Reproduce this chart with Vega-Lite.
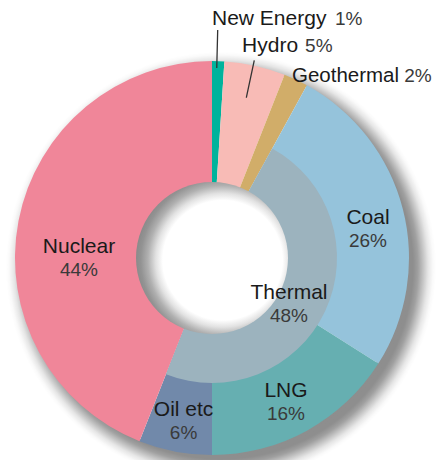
{
  "$schema": "https://vega.github.io/schema/vega-lite/v6.json",
  "width": 424,
  "height": 404,
  "padding": {"left": 0, "top": 56, "right": 15, "bottom": 0},
  "autosize": {"type": "none"},
  "background": "white",
  "config": {"view": {"stroke": null}, "text": {"font": "Liberation Sans"}},
  "data": {
    "values": [
      {"source": "New Energy", "group": "New Energy", "share": 0.01, "rank": 1},
      {"source": "Hydro", "group": "Hydro", "share": 0.05, "rank": 2},
      {"source": "Geothermal", "group": "Geothermal", "share": 0.02, "rank": 3},
      {"source": "Coal", "group": "Thermal", "share": 0.26, "rank": 4},
      {"source": "LNG", "group": "Thermal", "share": 0.16, "rank": 5},
      {"source": "Oil etc", "group": "Thermal", "share": 0.06, "rank": 6},
      {"source": "Nuclear", "group": "Nuclear", "share": 0.44, "rank": 7}
    ]
  },
  "encoding": {
    "theta": {"field": "share", "type": "quantitative", "stack": true, "scale": {"domain": [0, 1]}},
    "order": {"field": "rank", "type": "quantitative"}
  },
  "layer": [
    {
      "transform": [
        {"aggregate": [{"op": "sum", "field": "share", "as": "share"}, {"op": "min", "field": "rank", "as": "rank"}]}
      ],
      "mark": {
        "type": "arc", "radius": 230, "radius2": 195,
        "color": {
          "gradient": "radial", "x1": 0.5196, "y1": 0.5196, "r1": 0, "x2": 0.5196, "y2": 0.5196, "r2": 0.4674,
          "stops": [
            {"offset": 0, "color": "#8a8a8a"},
            {"offset": 0.893, "color": "#8e8e8e"},
            {"offset": 0.916, "color": "#a0a0a0"},
            {"offset": 0.94, "color": "#c4c4c4"},
            {"offset": 0.963, "color": "#e6e6e6"},
            {"offset": 0.986, "color": "#fafafa"},
            {"offset": 1, "color": "#ffffff"}
          ]
        }
      }
    },
    {
      "mark": {"type": "arc", "radius": 197, "radius2": 74},
      "encoding": {
        "color": {
          "field": "source", "type": "nominal", "legend": null,
          "scale": {
            "domain": ["New Energy", "Hydro", "Geothermal", "Coal", "LNG", "Oil etc", "Nuclear"],
            "range": ["#00B39C", "#F8BBB6", "#D1AD69", "#95C3DB", "#66AFB1", "#7189AA", "#F08699"]
          }
        }
      }
    },
    {
      "transform": [
        {"aggregate": [{"op": "sum", "field": "share", "as": "share"}, {"op": "min", "field": "rank", "as": "rank"}], "groupby": ["group"]}
      ],
      "mark": {"type": "arc", "radius": 125, "radius2": 74, "color": "#9CB3BE"},
      "encoding": {
        "opacity": {"condition": {"test": "datum.group === 'Thermal'", "value": 1}, "value": 0}
      }
    },
    {
      "transform": [
        {"aggregate": [{"op": "sum", "field": "share", "as": "share"}, {"op": "min", "field": "rank", "as": "rank"}]}
      ],
      "mark": {
        "type": "arc", "radius": 76, "radius2": 0,
        "color": {
          "gradient": "radial", "x1": 0.57, "y1": 0.515, "r1": 0, "x2": 0.57, "y2": 0.515, "r2": 0.579,
          "stops": [
            {"offset": 0, "color": "#ffffff"},
            {"offset": 0.68, "color": "#ffffff"},
            {"offset": 0.76, "color": "#e2e2e2"},
            {"offset": 0.85, "color": "#b0b0b0"},
            {"offset": 0.93, "color": "#939393"},
            {"offset": 1, "color": "#888888"}
          ]
        }
      }
    },
    {
      "transform": [
        {"stack": "share", "groupby": [], "sort": [{"field": "rank", "order": "ascending"}], "as": ["s0", "s1"]},
        {"filter": "datum.source === 'New Energy'"}
      ],
      "mark": {"type": "arc", "radius": 228, "radius2": 190, "thetaOffset": 0.025, "theta2Offset": 0.025, "filled": false, "stroke": "#333333", "strokeWidth": 1.3},
      "encoding": {
        "theta": {"field": "s0", "type": "quantitative", "stack": null, "scale": {"domain": [0, 1]}},
        "theta2": {"field": "s0"}
      }
    },
    {
      "transform": [
        {"stack": "share", "groupby": [], "sort": [{"field": "rank", "order": "ascending"}], "as": ["s0", "s1"]},
        {"filter": "datum.source === 'Hydro'"}
      ],
      "mark": {"type": "arc", "radius": 202, "radius2": 164, "thetaOffset": 0.148, "theta2Offset": 0.148, "filled": false, "stroke": "#333333", "strokeWidth": 1.3},
      "encoding": {
        "theta": {"field": "s0", "type": "quantitative", "stack": null, "scale": {"domain": [0, 1]}},
        "theta2": {"field": "s0"}
      }
    },
    {
      "mark": {"type": "text", "radius": 239.1, "dx": -7.5, "align": "left", "baseline": "middle", "fontSize": 21, "color": "#1a1a1a"},
      "encoding": {"text": {"condition": {"test": "datum.source === 'New Energy'", "field": "source"}, "value": ""}}
    },
    {
      "mark": {"type": "text", "radius": 239.1, "dx": 115.5, "align": "left", "baseline": "middle", "fontSize": 19, "color": "#3a3a3a"},
      "encoding": {"text": {"condition": {"test": "datum.source === 'New Energy'", "field": "share", "format": ".0%"}, "value": ""}}
    },
    {
      "mark": {"type": "text", "radius": 217.1, "dx": -17.3, "align": "left", "baseline": "middle", "fontSize": 21, "color": "#1a1a1a"},
      "encoding": {"text": {"condition": {"test": "datum.source === 'Hydro'", "field": "source"}, "value": ""}}
    },
    {
      "mark": {"type": "text", "radius": 217.1, "dx": 45.7, "align": "left", "baseline": "middle", "fontSize": 19, "color": "#3a3a3a"},
      "encoding": {"text": {"condition": {"test": "datum.source === 'Hydro'", "field": "share", "format": ".0%"}, "value": ""}}
    },
    {
      "mark": {"type": "text", "radius": 201.2, "dx": -5.7, "align": "left", "baseline": "middle", "fontSize": 20.5, "color": "#1a1a1a"},
      "encoding": {"text": {"condition": {"test": "datum.source === 'Geothermal'", "field": "source"}, "value": ""}}
    },
    {
      "mark": {"type": "text", "radius": 201.2, "dx": 106.5, "align": "left", "baseline": "middle", "fontSize": 19, "color": "#3a3a3a"},
      "encoding": {"text": {"condition": {"test": "datum.source === 'Geothermal'", "field": "share", "format": ".0%"}, "value": ""}}
    },
    {
      "mark": {"type": "text", "radius": 158.5, "thetaOffset": 0.0737, "dy": -11.5, "align": "center", "baseline": "middle", "fontSize": 21, "color": "#1a1a1a"},
      "encoding": {"text": {"condition": {"test": "datum.source === 'Coal'", "field": "source"}, "value": ""}}
    },
    {
      "mark": {"type": "text", "radius": 158.5, "thetaOffset": 0.0737, "dy": 11.5, "align": "center", "baseline": "middle", "fontSize": 19, "color": "#3a3a3a"},
      "encoding": {"text": {"condition": {"test": "datum.source === 'Coal'", "field": "share", "format": ".0%"}, "value": ""}}
    },
    {
      "mark": {"type": "text", "radius": 161.9, "thetaOffset": 0.028, "dy": -11.5, "align": "center", "baseline": "middle", "fontSize": 21, "color": "#1a1a1a"},
      "encoding": {"text": {"condition": {"test": "datum.source === 'LNG'", "field": "source"}, "value": ""}}
    },
    {
      "mark": {"type": "text", "radius": 161.9, "thetaOffset": 0.028, "dy": 11.5, "align": "center", "baseline": "middle", "fontSize": 19, "color": "#3a3a3a"},
      "encoding": {"text": {"condition": {"test": "datum.source === 'LNG'", "field": "share", "format": ".0%"}, "value": ""}}
    },
    {
      "mark": {"type": "text", "radius": 165.5, "thetaOffset": -0.016, "dy": -11.5, "align": "center", "baseline": "middle", "fontSize": 21, "color": "#1a1a1a"},
      "encoding": {"text": {"condition": {"test": "datum.source === 'Oil etc'", "field": "source"}, "value": ""}}
    },
    {
      "mark": {"type": "text", "radius": 165.5, "thetaOffset": -0.016, "dy": 11.5, "align": "center", "baseline": "middle", "fontSize": 19, "color": "#3a3a3a"},
      "encoding": {"text": {"condition": {"test": "datum.source === 'Oil etc'", "field": "share", "format": ".0%"}, "value": ""}}
    },
    {
      "mark": {"type": "text", "radius": 133, "thetaOffset": -0.196, "dy": -11.5, "align": "center", "baseline": "middle", "fontSize": 21, "color": "#1a1a1a"},
      "encoding": {"text": {"condition": {"test": "datum.source === 'Nuclear'", "field": "source"}, "value": ""}}
    },
    {
      "mark": {"type": "text", "radius": 133, "thetaOffset": -0.196, "dy": 11.5, "align": "center", "baseline": "middle", "fontSize": 19, "color": "#3a3a3a"},
      "encoding": {"text": {"condition": {"test": "datum.source === 'Nuclear'", "field": "share", "format": ".0%"}, "value": ""}}
    },
    {
      "transform": [
        {"aggregate": [{"op": "sum", "field": "share", "as": "share"}, {"op": "min", "field": "rank", "as": "rank"}], "groupby": ["group"]}
      ],
      "mark": {"type": "text", "radius": 90.2, "thetaOffset": 0.108, "dy": -11.5, "align": "center", "baseline": "middle", "fontSize": 21, "color": "#1a1a1a"},
      "encoding": {"text": {"condition": {"test": "datum.group === 'Thermal'", "field": "group"}, "value": ""}}
    },
    {
      "transform": [
        {"aggregate": [{"op": "sum", "field": "share", "as": "share"}, {"op": "min", "field": "rank", "as": "rank"}], "groupby": ["group"]}
      ],
      "mark": {"type": "text", "radius": 90.2, "thetaOffset": 0.108, "dy": 11.5, "align": "center", "baseline": "middle", "fontSize": 19, "color": "#3a3a3a"},
      "encoding": {"text": {"condition": {"test": "datum.group === 'Thermal'", "field": "share", "format": ".0%"}, "value": ""}}
    }
  ]
}
